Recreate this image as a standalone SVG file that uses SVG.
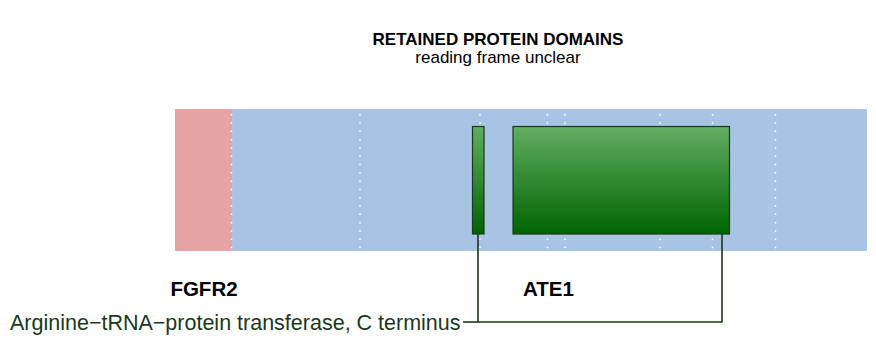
<svg xmlns="http://www.w3.org/2000/svg" width="876" height="342" viewBox="0 0 876 342">
<defs>
<linearGradient id="g" x1="0" y1="0" x2="0" y2="1">
<stop offset="0" stop-color="#62ad62"/>
<stop offset="1" stop-color="#006400"/>
</linearGradient>
</defs>
<style>
.t{font-family:"Liberation Sans",Arial,sans-serif;fill:#000}
.b{font-weight:bold}
.dot{stroke:#fff;stroke-width:1.5;stroke-dasharray:1.5 6.8;fill:none}
.dom{fill:url(#g);stroke:#1a3a1a;stroke-width:1.2}
.con{stroke:#1a3a1a;stroke-width:1.6;fill:none}
</style>
<rect width="876" height="342" fill="#fff"/>
<g id="title">
<text class="t b" x="498" y="45" font-size="17" text-anchor="middle">RETAINED PROTEIN DOMAINS</text>
<text class="t" x="498" y="63" font-size="17" text-anchor="middle">reading frame unclear</text>
</g>
<g id="track">
<rect x="175" y="109" width="692" height="142" fill="#a8c4e4"/>
<rect x="175" y="109" width="57" height="142" fill="#e4a4a4"/>
<g class="dot">
<line x1="231.5" y1="114" x2="231.5" y2="251"/>
<line x1="360" y1="114" x2="360" y2="251"/>
<line x1="480" y1="114" x2="480" y2="251"/>
<line x1="547.5" y1="114" x2="547.5" y2="251"/>
<line x1="565" y1="114" x2="565" y2="251"/>
<line x1="660" y1="114" x2="660" y2="251"/>
<line x1="712.5" y1="114" x2="712.5" y2="251"/>
<line x1="775.5" y1="114" x2="775.5" y2="251"/>
</g>
</g>
<g id="connectors">
<path class="con" d="M478 234 V322 H722 V234"/>
<path class="con" d="M463 322 H478"/>
</g>
<g id="domain1"><rect class="dom" x="472.5" y="126.5" width="11.5" height="107.5"/></g>
<g id="domain2"><rect class="dom" x="513" y="126.5" width="216.5" height="107.5"/></g>
<g id="labels">
<text class="t b" x="204" y="296" font-size="20.5" text-anchor="middle">FGFR2</text>
<text class="t b" x="548.5" y="296" font-size="20.5" text-anchor="middle">ATE1</text>
<text class="t" x="10" y="330" font-size="21.5" style="fill:#1a3a1a">Arginine−tRNA−protein transferase, C terminus</text>
</g>
</svg>
